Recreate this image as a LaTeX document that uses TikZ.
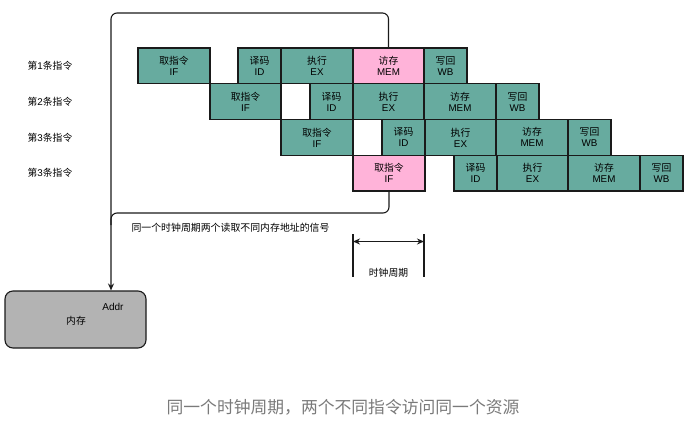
\documentclass[tikz,border=0pt]{standalone}
\usepackage{fontspec}
\setmainfont{Noto Sans CJK SC}
\newfontfamily\latf{Liberation Sans}
\usetikzlibrary{arrows.meta}
\definecolor{stgreen}{HTML}{67AB9F}
\definecolor{stpink}{HTML}{FFB3D9}
\definecolor{memgray}{HTML}{B3B3B3}
\definecolor{linec}{HTML}{1A1A1A}
\definecolor{capgray}{HTML}{7A7A7A}
\tikzset{
  stg/.style={draw=linec, line width=1.1pt, fill=stgreen, inner sep=0pt, outer sep=0pt,
    minimum height=35.75pt, align=center, font=\fontsize{9.8}{11}\selectfont},
  stgpink/.style={stg, fill=stpink},
  rowlab/.style={font=\fontsize{9.8}{11}\selectfont},
  conn/.style={draw=linec, line width=1.1pt},
  tipc/.style={-{Stealth[length=7pt,width=6pt]}},
}
\newcommand\stagebox[6]{%
  \node[#6, minimum width={(#3)-(#2)}] (#1) at ({((#2)+(#3))/2},{48+35.75*(#4)+17.875}) {#5};}
\begin{document}
\begin{tikzpicture}[x=1pt,y=-1pt]
\useasboundingbox (0,0) rectangle (691,421);
% row labels
\node[rowlab] (l1) at (50,66) {第{\latf 1}条指令};
\node[rowlab] (l2) at (50,101.5) {第{\latf 2}条指令};
\node[rowlab] (l3) at (50,137.5) {第{\latf 3}条指令};
\node[rowlab] (l4) at (50,173) {第{\latf 3}条指令};
% row 1
\stagebox{a1}{138}{210}{0}{取指令\\{\latf IF}}{stg}
\stagebox{a2}{238}{281}{0}{译码\\{\latf ID}}{stg}
\stagebox{a3}{281}{353}{0}{执行\\{\latf EX}}{stg}
\stagebox{a4}{353}{424}{0}{访存\\{\latf MEM}}{stgpink}
\stagebox{a5}{424}{467}{0}{写回\\{\latf WB}}{stg}
% row 2
\stagebox{b1}{210}{281}{1}{取指令\\{\latf IF}}{stg}
\stagebox{b2}{310}{353}{1}{译码\\{\latf ID}}{stg}
\stagebox{b3}{353}{424}{1}{执行\\{\latf EX}}{stg}
\stagebox{b4}{424}{496}{1}{访存\\{\latf MEM}}{stg}
\stagebox{b5}{496}{539}{1}{写回\\{\latf WB}}{stg}
% row 3
\stagebox{c1}{281}{353}{2}{取指令\\{\latf IF}}{stg}
\stagebox{c2}{382}{425}{2}{译码\\{\latf ID}}{stg}
\stagebox{c3}{425}{496}{2}{执行\\{\latf EX}}{stg}
\stagebox{c4}{496}{568}{2}{访存\\{\latf MEM}}{stg}
\stagebox{c5}{568}{611}{2}{写回\\{\latf WB}}{stg}
% row 4
\stagebox{d1}{353}{425}{3}{取指令\\{\latf IF}}{stgpink}
\stagebox{d2}{454}{497}{3}{译码\\{\latf ID}}{stg}
\stagebox{d3}{497}{568}{3}{执行\\{\latf EX}}{stg}
\stagebox{d4}{568}{640}{3}{访存\\{\latf MEM}}{stg}
\stagebox{d5}{640}{683}{3}{写回\\{\latf WB}}{stg}
% memory
\node[draw=linec, line width=1.1pt, fill=memgray, rounded corners=8pt,
      minimum width=141pt, minimum height=57pt, inner sep=0pt] (mem) at (75.5,319.5) {};
\node[font=\latf\fontsize{10}{11}\selectfont] (addr) at (113,307) {Addr};
\node[font=\fontsize{9.8}{11}\selectfont] (memlab) at (76,321) {内存};
% connectors
\coordinate (tl) at (111,13);
\coordinate (jn) at (111,213);
\draw[conn, tipc, rounded corners=6pt] (a4.north) |- (tl) -- (mem.north -| tl);
\draw[conn, rounded corners=6pt] (d1.south) -- (d1.south |- jn) -- (jn) -- ++(0,12);
\node[font=\fontsize{9.9}{11}\selectfont, anchor=west] (sig) at (128,228) {同一个时钟周期两个读取不同内存地址的信号};
% clock period
\coordinate (ct1) at (353,234);
\coordinate (cb1) at (353,277);
\coordinate (ct2) at (424,234);
\coordinate (cb2) at (424,277);
\draw[conn] (ct1) -- (cb1);
\draw[conn] (ct2) -- (cb2);
\coordinate (ca1) at (353,241.5);
\coordinate (ca2) at (424,241.5);
\draw[conn, {Stealth[length=7pt,width=6pt]}-{Stealth[length=7pt,width=6pt]}] (ca1) -- (ca2);
\node[font=\fontsize{9.8}{11}\selectfont] (clk) at (388.5,273) {时钟周期};
% caption
\node[font=\fontsize{16.8}{18}\selectfont, text=capgray] (cap) at (343,407) {同一个时钟周期，两个不同指令访问同一个资源};
\end{tikzpicture}
\end{document}
